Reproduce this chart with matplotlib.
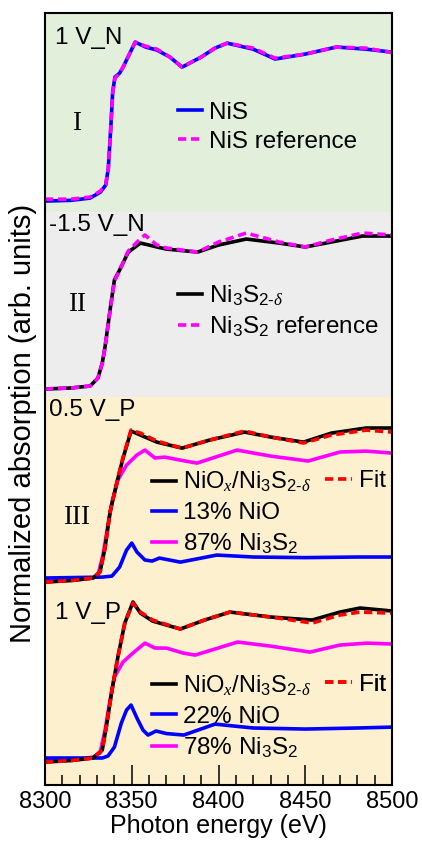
import matplotlib
matplotlib.use("Agg")
import matplotlib.pyplot as plt
from matplotlib.ticker import MultipleLocator

plt.rcParams["font.family"] = ["Liberation Sans", "DejaVu Sans"]
plt.rcParams["mathtext.fontset"] = "custom"
plt.rcParams["mathtext.rm"] = "Liberation Sans"
plt.rcParams["mathtext.it"] = "Liberation Serif:italic"
plt.rcParams["mathtext.bf"] = "Liberation Sans:bold"

# ---- spectra (normalized, pre-edge = 0, edge jump = 1) ----
# I : 1 V_N
e_nis = [8300, 8315, 8326, 8332, 8335, 8336.5, 8338, 8339, 8340.3, 8343, 8345, 8352,
         8358, 8364.5, 8372, 8379, 8390, 8398, 8405, 8420, 8432.6, 8450, 8468, 8485, 8500]
nis = [0.0, 0.005, 0.02, 0.06, 0.107, 0.22, 0.507, 0.727, 0.827, 0.853, 0.893, 1.06,
       1.027, 1.007, 0.96, 0.893, 0.96, 1.02, 1.053, 1.013, 0.947, 0.98, 1.027, 1.013, 0.993]
nis_ref = [0.013, 0.013, 0.027, 0.067, 0.11, 0.22, 0.5, 0.72, 0.82, 0.853, 0.893, 1.06,
           1.033, 1.013, 0.96, 0.893, 0.96, 1.02, 1.053, 1.02, 0.953, 0.98, 1.027, 1.02, 0.99]

# II : -1.5 V_N
e_ni3s2d = [8300, 8315, 8326, 8330.5, 8333, 8334.6, 8337.5, 8340, 8343, 8348, 8355, 8360,
            8364.5, 8370, 8388, 8400, 8416, 8435, 8450, 8465, 8483, 8500]
ni3s2d = [0.0, 0.007, 0.02, 0.073, 0.173, 0.28, 0.527, 0.727, 0.793, 0.913, 0.973, 0.96,
          0.947, 0.933, 0.913, 0.96, 1.0, 0.973, 0.947, 0.98, 1.02, 1.02]
e_ni3s2_ref = [8300, 8315, 8326, 8330.5, 8333, 8334.6, 8337.5, 8340, 8343, 8348, 8354, 8357.6,
               8364.5, 8370, 8388, 8400, 8416, 8435, 8450, 8465, 8483, 8500]
ni3s2_ref = [0.0, 0.007, 0.02, 0.073, 0.17, 0.28, 0.52, 0.72, 0.79, 0.92, 0.99, 1.027,
             0.96, 0.94, 0.913, 0.98, 1.04, 0.98, 0.947, 0.993, 1.04, 1.027]

# III : 0.5 V_P
e_p3 = [8300, 8315, 8327.7, 8331.7, 8334.6, 8337.5, 8341.5, 8345, 8349.6, 8355, 8364.5,
        8379, 8395, 8415, 8430, 8449, 8465, 8485, 8500]
mix_05 = [0.0, 0.01, 0.027, 0.067, 0.227, 0.467, 0.667, 0.827, 1.007, 0.98, 0.933,
          0.893, 0.947, 1.0, 0.967, 0.933, 0.993, 1.027, 1.027]
fit_05 = [0.0, 0.01, 0.027, 0.067, 0.227, 0.467, 0.667, 0.833, 1.013, 0.993, 0.94,
          0.893, 0.947, 1.007, 0.967, 0.927, 0.98, 1.013, 1.0]
e_s87 = [8300, 8320, 8327.7, 8330.5, 8333.4, 8336.3, 8338.6, 8342, 8347, 8353, 8357.6,
         8363.4, 8369, 8378, 8387.6, 8410.7, 8430, 8451.6, 8470, 8485, 8500]
s87 = [0.013, 0.017, 0.027, 0.047, 0.18, 0.38, 0.533, 0.68, 0.78, 0.847, 0.88,
       0.827, 0.833, 0.813, 0.793, 0.88, 0.84, 0.807, 0.867, 0.873, 0.86]
e_o13 = [8300, 8333, 8338.6, 8343, 8347, 8350, 8353, 8357.6, 8361.7, 8366, 8378,
         8399, 8420, 8450, 8480, 8500]
o13 = [0.027, 0.033, 0.04, 0.1, 0.213, 0.26, 0.2, 0.147, 0.14, 0.16, 0.133,
       0.18, 0.167, 0.163, 0.167, 0.167]

# IV : 1 V_P
e_p4 = [8300, 8315, 8327.7, 8333, 8335.7, 8338.6, 8342, 8346, 8350.7, 8355, 8362,
        8378, 8392, 8406.6, 8430, 8454, 8470, 8481.6, 8500]
mix_1 = [0.0, 0.01, 0.027, 0.08, 0.26, 0.48, 0.7, 0.927, 1.067, 0.993, 0.94,
         0.887, 0.947, 1.0, 0.967, 0.947, 1.0, 1.027, 1.007]
fit_1 = [0.0, 0.01, 0.027, 0.08, 0.26, 0.48, 0.7, 0.927, 1.06, 1.0, 0.947,
         0.887, 0.947, 1.0, 0.967, 0.927, 0.98, 1.0, 0.993]
e_s78 = [8300, 8320, 8327.7, 8331.7, 8334.6, 8337.5, 8340, 8345, 8350.7, 8357.6, 8363.4,
         8370, 8379.5, 8386.5, 8411, 8430, 8452.7, 8470, 8485.6, 8500]
s78 = [0.013, 0.02, 0.033, 0.06, 0.213, 0.413, 0.567, 0.667, 0.727, 0.793, 0.76,
       0.76, 0.727, 0.713, 0.8, 0.773, 0.733, 0.78, 0.793, 0.787]
e_o22 = [8300, 8333, 8336.3, 8340, 8344, 8347, 8349.6, 8353, 8356.5, 8359.4, 8364,
         8370, 8380, 8398, 8420, 8450, 8480, 8500]
o22 = [0.027, 0.027, 0.04, 0.1, 0.26, 0.347, 0.38, 0.293, 0.213, 0.18, 0.207,
       0.19, 0.18, 0.253, 0.227, 0.22, 0.227, 0.233]

# vertical offsets of the four stacked panels
off = [3.893, 2.64, 1.353, 0.153]

fig = plt.figure(figsize=(4.22, 8.46), dpi=100)
ax = fig.add_axes([45 / 422, 61 / 846, 347 / 422, 772 / 846])

ax.axhspan(3.82, 6, color="#E2EFDA", zorder=0)
ax.axhspan(2.587, 3.82, color="#EDEDED", zorder=0)
ax.axhspan(-1, 2.587, color="#FDF0CF", zorder=0)

lw = 2.6
fs = 17.5
dash = (2.3, 1.3)
leg_kw = dict(loc="upper left", frameon=False, fontsize=fs, handlelength=1.0,
              handletextpad=0.3, borderpad=0, borderaxespad=0, labelspacing=0.28)


def shift(vals, o):
    return [v + o for v in vals]


# panel I
l1, = ax.plot(e_nis, shift(nis, off[0]), color="#0000FF", lw=lw, label="NiS")
l2, = ax.plot(e_nis, shift(nis_ref, off[0]), color="#FF00FF", lw=lw, dashes=dash,
              label="NiS reference")
ax.add_artist(ax.legend(handles=[l1, l2], bbox_to_anchor=(0.383, 0.885), **leg_kw))

# panel II
l1, = ax.plot(e_ni3s2d, shift(ni3s2d, off[1]), color="black", lw=lw,
              label=r"Ni$_3$S$_{2\text{-}\delta}$")
l2, = ax.plot(e_ni3s2_ref, shift(ni3s2_ref, off[1]), color="#FF00FF", lw=lw,
              dashes=dash, label=r"Ni$_3$S$_2$ reference")
ax.add_artist(ax.legend(handles=[l1, l2], bbox_to_anchor=(0.383, 0.650), **leg_kw))

# panels III and IV
mix_label = r"NiO$_x$/Ni$_3$S$_{2\text{-}\delta}$"
for k, (e_m, m, f, e_s, s, e_o, o, ts, to, ly) in enumerate([
        (e_p3, mix_05, fit_05, e_s87, s87, e_o13, o13, "87%", "13%", 0.408),
        (e_p4, mix_1, fit_1, e_s78, s78, e_o22, o22, "78%", "22%", 0.144)]):
    o_k = off[2 + k]
    ls, = ax.plot(e_s, shift(s, o_k), color="#FF00FF", lw=lw,
                  label=ts + r" Ni$_3$S$_2$")
    lo, = ax.plot(e_o, shift(o, o_k), color="#0000FF", lw=lw, label=to + " NiO")
    lm, = ax.plot(e_m, shift(m, o_k), color="black", lw=lw, label=mix_label)
    lf, = ax.plot(e_m, shift(f, o_k), color="#FF0000", lw=lw, dashes=dash,
                  label="Fit")
    leg = ax.legend(handles=[lm, lo, ls], bbox_to_anchor=(0.308, ly),
                    **dict(leg_kw, labelspacing=0.32))
    leg.get_texts()[0].set_fontsize(17)
    ax.add_artist(leg)
    ax.add_artist(ax.legend(handles=[lf], bbox_to_anchor=(0.807, ly),
                            **dict(leg_kw, handlelength=1.1)))

# panel captions
for txt, x, y in [("1 V_N", 0.029, 0.9676), ("-1.5 V_N", 0.0115, 0.725),
                  ("0.5 V_P", 0.0115, 0.486), ("1 V_P", 0.029, 0.223)]:
    ax.text(x, y, txt, transform=ax.transAxes, fontsize=fs, va="center", ha="left")
for txt, y in [("I", 0.8575), ("II", 0.622), ("III", 0.346)]:
    ax.text(0.092, y, txt, transform=ax.transAxes, fontsize=19.5, va="center",
            ha="center", family="Liberation Serif")

ax.set_xlim(8300, 8500)
ax.set_ylim(0, 5.147)
ax.xaxis.set_major_locator(MultipleLocator(50))
ax.xaxis.set_minor_locator(MultipleLocator(10))
ax.tick_params(axis="x", which="major", direction="in", length=14.4, width=1.1,
               labelsize=17, pad=4.5)
ax.tick_params(axis="x", which="minor", direction="in", length=7, width=1.1)
ax.set_yticks([])
for sp in ax.spines.values():
    sp.set_linewidth(1.5)

ax.set_xlabel("Photon energy (eV)", fontsize=18, labelpad=0.5)
fig.text(23 / 422, (846 - 423) / 846, "Normalized absorption (arb. units)", rotation=90,
         fontsize=21, ha="center", va="center")

fig.savefig("out.png", dpi=100)
